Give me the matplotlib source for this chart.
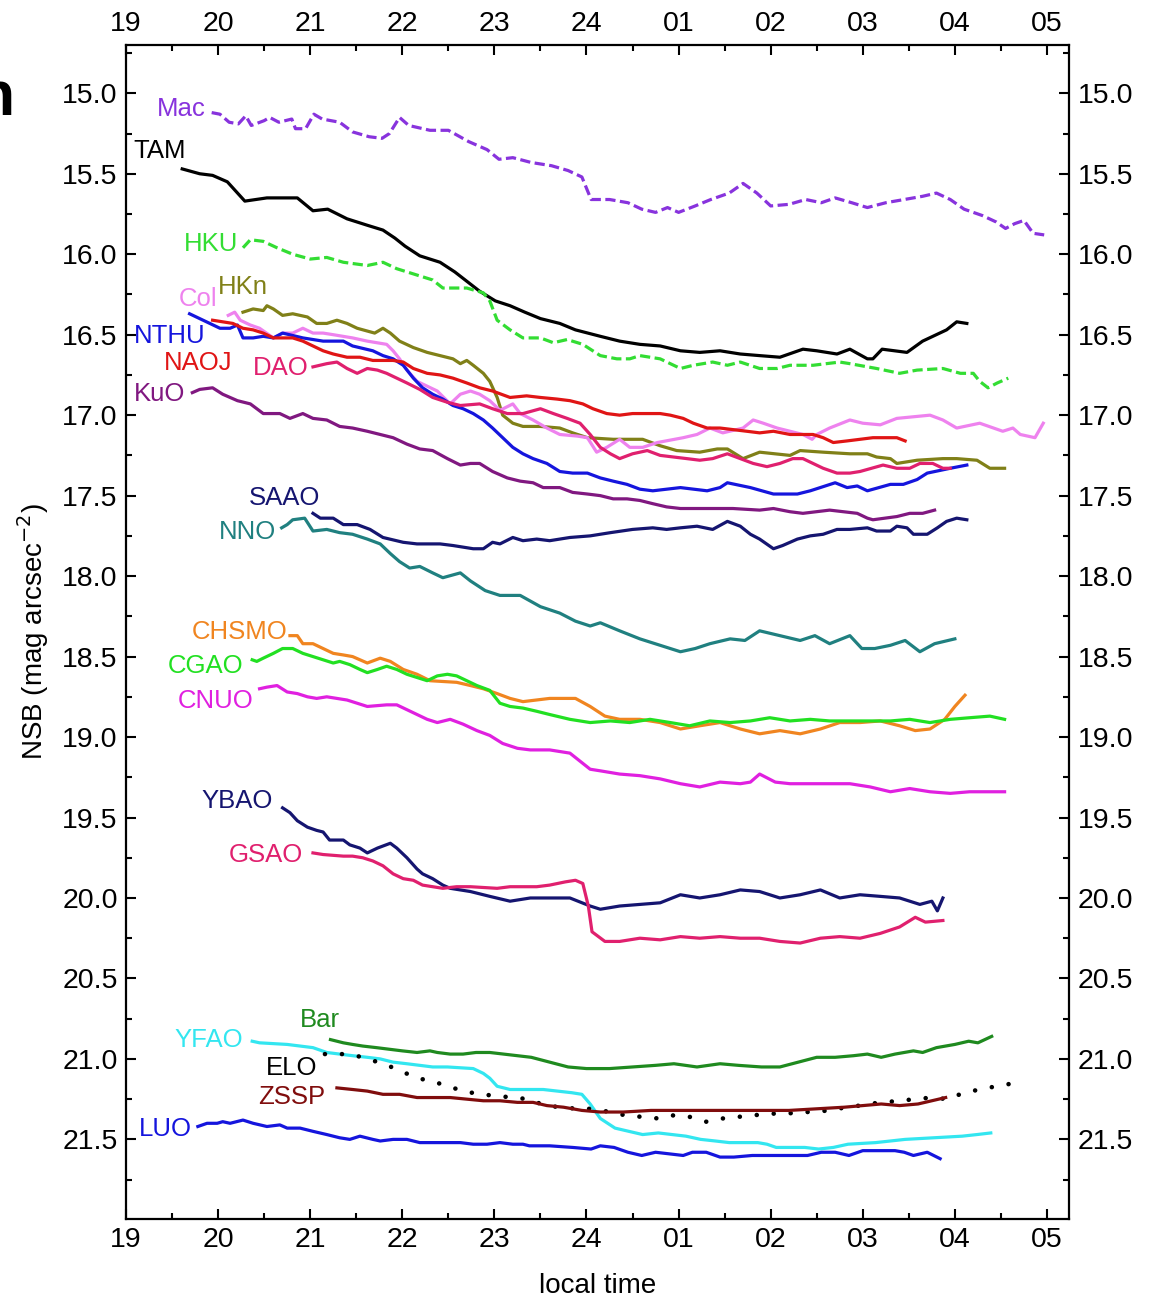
import matplotlib
matplotlib.use("Agg")
import matplotlib.pyplot as plt
from matplotlib.ticker import MultipleLocator, FixedLocator, FormatStrFormatter


OUTPUT = "out.png"

# local time in hours (24 = midnight, 25 = 01 ...), NSB in mag arcsec^-2
MAC_T = [19.93, 20.02, 20.12, 20.22, 20.30, 20.36, 20.50, 20.56, 20.66, 20.80, 20.84, 20.95,
         21.04, 21.13, 21.32, 21.46, 21.64, 21.78, 21.86, 21.97, 22.07, 22.30, 22.50, 22.72,
         22.92, 23.05, 23.20, 23.40, 23.62, 23.80, 23.95, 24.05, 24.25, 24.45, 24.60, 24.75,
         24.88, 25.00, 25.18, 25.35, 25.55, 25.70, 25.85, 26.00, 26.20, 26.38, 26.55, 26.70,
         26.88, 27.05, 27.25, 27.45, 27.65, 27.80, 27.95, 28.10, 28.30, 28.45, 28.55, 28.65,
         28.75, 28.85, 28.97]
MAC_V = [15.12, 15.13, 15.18, 15.19, 15.14, 15.20, 15.17, 15.15, 15.18, 15.16, 15.22, 15.22,
         15.13, 15.16, 15.18, 15.24, 15.27, 15.28, 15.25, 15.15, 15.20, 15.23, 15.23, 15.30,
         15.35, 15.41, 15.40, 15.43, 15.45, 15.48, 15.52, 15.66, 15.66, 15.68, 15.72, 15.74,
         15.71, 15.74, 15.70, 15.66, 15.62, 15.56, 15.62, 15.70, 15.69, 15.66, 15.68, 15.65,
         15.68, 15.71, 15.68, 15.66, 15.64, 15.62, 15.66, 15.72, 15.76, 15.80, 15.84, 15.81,
         15.79, 15.87, 15.88]

TAM_T = [19.61, 19.80, 19.94, 20.10, 20.29, 20.53, 20.86, 21.03, 21.19, 21.40, 21.62, 21.79,
         21.92, 22.03, 22.19, 22.41, 22.57, 22.84, 23.01, 23.17, 23.33, 23.50, 23.71, 23.88,
         24.15, 24.36, 24.58, 24.80, 25.02, 25.23, 25.45, 25.67, 25.88, 26.10, 26.35, 26.50,
         26.72, 26.86, 27.05, 27.11, 27.21, 27.48, 27.65, 27.91, 28.02, 28.13]
TAM_V = [15.47, 15.50, 15.51, 15.55, 15.67, 15.65, 15.65, 15.73, 15.72, 15.78, 15.82, 15.85,
         15.90, 15.95, 16.01, 16.05, 16.11, 16.23, 16.29, 16.32, 16.36, 16.40, 16.43, 16.47,
         16.51, 16.54, 16.56, 16.57, 16.60, 16.61, 16.60, 16.62, 16.63, 16.64, 16.59, 16.60,
         16.62, 16.59, 16.65, 16.65, 16.59, 16.61, 16.54, 16.47, 16.42, 16.43]

HKU_T = [20.27, 20.35, 20.49, 20.64, 20.81, 21.00, 21.18, 21.36, 21.62, 21.79, 21.94, 22.33,
         22.44, 22.70, 22.88, 22.95, 23.03, 23.17, 23.31, 23.50, 23.64, 23.79, 23.96, 24.15,
         24.33, 24.47, 24.58, 24.80, 25.02, 25.16, 25.37, 25.53, 25.67, 25.88, 26.07, 26.21,
         26.46, 26.75, 26.86, 27.15, 27.40, 27.59, 27.87, 28.06, 28.20, 28.27, 28.36, 28.46,
         28.58]
HKU_V = [15.96, 15.91, 15.92, 15.96, 16.00, 16.03, 16.02, 16.05, 16.07, 16.05, 16.09, 16.16,
         16.21, 16.21, 16.24, 16.29, 16.41, 16.47, 16.52, 16.52, 16.55, 16.53, 16.56, 16.63,
         16.65, 16.65, 16.63, 16.65, 16.71, 16.69, 16.67, 16.69, 16.67, 16.71, 16.71, 16.69,
         16.69, 16.67, 16.68, 16.71, 16.74, 16.72, 16.71, 16.74, 16.74, 16.79, 16.83, 16.80,
         16.77]

HKN_T = [20.27, 20.38, 20.49, 20.53, 20.60, 20.70, 20.81, 20.97, 21.07, 21.18, 21.29, 21.40,
         21.51, 21.70, 21.79, 21.87, 21.97, 22.12, 22.27, 22.41, 22.55, 22.63, 22.70, 22.77,
         22.88, 22.95, 23.03, 23.09, 23.20, 23.31, 23.50, 23.71, 23.85, 24.01, 24.29, 24.61,
         24.80, 24.98, 25.23, 25.42, 25.53, 25.70, 25.88, 26.21, 26.32, 26.57, 26.86, 27.05,
         27.15, 27.30, 27.37, 27.59, 27.87, 28.02, 28.24, 28.38, 28.54]
HKN_V = [16.36, 16.34, 16.35, 16.32, 16.34, 16.38, 16.37, 16.39, 16.43, 16.43, 16.41, 16.43,
         16.46, 16.49, 16.46, 16.49, 16.54, 16.58, 16.61, 16.63, 16.65, 16.68, 16.66, 16.69,
         16.74, 16.79, 16.89, 17.00, 17.05, 17.07, 17.07, 17.08, 17.11, 17.14, 17.15, 17.15,
         17.19, 17.22, 17.23, 17.21, 17.21, 17.27, 17.23, 17.25, 17.22, 17.23, 17.24, 17.24,
         17.26, 17.27, 17.30, 17.28, 17.27, 17.27, 17.28, 17.33, 17.33]

COL_T = [20.11, 20.18, 20.24, 20.35, 20.45, 20.60, 20.70, 20.81, 20.92, 21.03, 21.14, 21.25,
         21.46, 21.62, 21.83, 21.90, 21.97, 22.05, 22.16, 22.27, 22.38, 22.52, 22.63, 22.74,
         22.84, 22.95, 23.06, 23.20, 23.28, 23.42, 23.57, 23.71, 23.90, 24.01, 24.11, 24.22,
         24.36, 24.47, 24.61, 24.77, 25.05, 25.20, 25.34, 25.48, 25.70, 25.81, 25.92, 26.07,
         26.21, 26.35, 26.45, 26.50, 26.64, 26.86, 27.00, 27.19, 27.37, 27.73, 27.87, 28.02,
         28.27, 28.52, 28.63, 28.71, 28.87, 28.96]
COL_V = [16.38, 16.36, 16.41, 16.44, 16.46, 16.52, 16.49, 16.49, 16.46, 16.49, 16.49, 16.50,
         16.52, 16.54, 16.56, 16.60, 16.65, 16.72, 16.79, 16.82, 16.85, 16.93, 16.87, 16.85,
         16.87, 16.91, 16.97, 16.93, 16.99, 17.03, 17.08, 17.12, 17.13, 17.14, 17.23, 17.20,
         17.15, 17.20, 17.20, 17.17, 17.14, 17.12, 17.08, 17.11, 17.08, 17.03, 17.05, 17.08,
         17.10, 17.12, 17.15, 17.12, 17.08, 17.03, 17.05, 17.06, 17.02, 17.00, 17.03, 17.08,
         17.05, 17.10, 17.08, 17.12, 17.14, 17.05]

NTHU_T = [19.69, 19.91, 20.02, 20.13, 20.21, 20.27, 20.38, 20.49, 20.60, 20.70, 20.92, 21.14,
          21.36, 21.46, 21.68, 21.79, 21.90, 22.01, 22.12, 22.22, 22.33, 22.44, 22.55, 22.66,
          22.77, 22.88, 22.98, 23.09, 23.20, 23.31, 23.42, 23.57, 23.71, 23.85, 24.01, 24.15,
          24.29, 24.44, 24.58, 24.72, 24.87, 25.02, 25.31, 25.45, 25.53, 25.78, 26.03, 26.29,
          26.43, 26.70, 26.83, 26.94, 27.05, 27.30, 27.44, 27.59, 27.70, 27.95, 28.13]
NTHU_V = [16.37, 16.43, 16.46, 16.46, 16.44, 16.52, 16.52, 16.51, 16.52, 16.49, 16.52, 16.54,
          16.54, 16.57, 16.60, 16.63, 16.65, 16.69, 16.77, 16.83, 16.87, 16.90, 16.94, 16.96,
          16.99, 17.03, 17.08, 17.14, 17.20, 17.24, 17.27, 17.30, 17.35, 17.36, 17.36, 17.39,
          17.41, 17.43, 17.46, 17.47, 17.46, 17.45, 17.47, 17.45, 17.42, 17.45, 17.49, 17.49,
          17.47, 17.42, 17.45, 17.44, 17.47, 17.43, 17.43, 17.40, 17.36, 17.33, 17.31]

NAOJ_T = [19.94, 20.16, 20.27, 20.38, 20.49, 20.60, 20.81, 20.92, 21.03, 21.14, 21.25, 21.40,
          21.54, 21.68, 21.79, 21.90, 22.01, 22.12, 22.27, 22.41, 22.55, 22.70, 22.84, 22.98,
          23.17, 23.35, 23.50, 23.68, 23.82, 23.96, 24.07, 24.22, 24.36, 24.50, 24.80, 24.91,
          25.05, 25.16, 25.31, 25.45, 25.74, 25.88, 26.03, 26.21, 26.35, 26.46, 26.57, 26.68,
          26.83, 27.11, 27.37, 27.46]
NAOJ_V = [16.41, 16.43, 16.46, 16.47, 16.49, 16.52, 16.52, 16.54, 16.57, 16.60, 16.62, 16.64,
          16.64, 16.66, 16.66, 16.66, 16.67, 16.71, 16.74, 16.75, 16.77, 16.80, 16.83, 16.85,
          16.89, 16.88, 16.89, 16.90, 16.91, 16.93, 16.96, 16.99, 17.00, 16.99, 16.99, 17.00,
          17.02, 17.05, 17.08, 17.08, 17.10, 17.11, 17.10, 17.12, 17.12, 17.12, 17.14, 17.17,
          17.16, 17.14, 17.14, 17.16]

DAO_T = [21.03, 21.18, 21.29, 21.40, 21.51, 21.62, 21.73, 21.83, 21.94, 22.05, 22.19, 22.33,
         22.49, 22.63, 22.84, 22.98, 23.14, 23.31, 23.50, 23.64, 23.79, 23.93, 24.04, 24.15,
         24.26, 24.36, 24.50, 24.66, 24.80, 25.09, 25.23, 25.37, 25.53, 25.67, 25.81, 25.96,
         26.10, 26.24, 26.35, 26.46, 26.57, 26.72, 26.86, 26.97, 27.22, 27.37, 27.51, 27.62,
         27.76, 27.87, 27.95]
DAO_V = [16.70, 16.68, 16.67, 16.71, 16.74, 16.71, 16.72, 16.74, 16.77, 16.80, 16.84, 16.89,
         16.92, 16.94, 16.93, 16.96, 16.99, 16.99, 16.96, 16.99, 17.02, 17.05, 17.12, 17.20,
         17.24, 17.27, 17.24, 17.22, 17.25, 17.27, 17.28, 17.27, 17.24, 17.27, 17.30, 17.32,
         17.30, 17.27, 17.27, 17.30, 17.33, 17.36, 17.36, 17.35, 17.31, 17.33, 17.33, 17.30,
         17.30, 17.33, 17.33]

KUO_T = [19.72, 19.80, 19.94, 20.05, 20.21, 20.35, 20.49, 20.67, 20.78, 20.92, 21.03, 21.18,
         21.32, 21.46, 21.62, 21.76, 21.90, 22.05, 22.19, 22.33, 22.49, 22.63, 22.74, 22.84,
         22.98, 23.14, 23.28, 23.42, 23.53, 23.71, 23.85, 24.01, 24.15, 24.29, 24.44, 24.58,
         24.72, 24.87, 25.02, 25.31, 25.59, 25.88, 26.03, 26.21, 26.35, 26.64, 26.94, 27.05,
         27.11, 27.37, 27.51, 27.65, 27.78]
KUO_V = [16.86, 16.84, 16.83, 16.87, 16.91, 16.93, 16.99, 16.99, 17.02, 16.99, 17.02, 17.03,
         17.07, 17.08, 17.10, 17.12, 17.14, 17.18, 17.21, 17.22, 17.27, 17.31, 17.30, 17.30,
         17.35, 17.39, 17.41, 17.42, 17.45, 17.45, 17.48, 17.49, 17.50, 17.52, 17.52, 17.53,
         17.55, 17.57, 17.58, 17.58, 17.58, 17.59, 17.58, 17.60, 17.61, 17.59, 17.61, 17.64,
         17.65, 17.63, 17.61, 17.61, 17.59]

SAAO_T = [21.03, 21.11, 21.25, 21.36, 21.51, 21.65, 21.79, 22.01, 22.16, 22.41, 22.55, 22.77,
          22.88, 22.98, 23.06, 23.20, 23.31, 23.46, 23.60, 23.82, 24.04, 24.26, 24.50, 24.72,
          24.87, 25.02, 25.20, 25.37, 25.53, 25.67, 25.78, 25.88, 26.03, 26.13, 26.29, 26.43,
          26.57, 26.72, 26.86, 27.05, 27.15, 27.30, 27.37, 27.48, 27.55, 27.70, 27.81, 27.91,
          28.02, 28.13]
SAAO_V = [17.61, 17.64, 17.64, 17.68, 17.68, 17.71, 17.76, 17.79, 17.80, 17.80, 17.81, 17.83,
          17.83, 17.79, 17.80, 17.76, 17.78, 17.77, 17.78, 17.76, 17.75, 17.73, 17.71, 17.70,
          17.71, 17.70, 17.69, 17.71, 17.66, 17.69, 17.74, 17.77, 17.83, 17.81, 17.77, 17.75,
          17.74, 17.71, 17.71, 17.70, 17.72, 17.72, 17.69, 17.70, 17.74, 17.74, 17.70, 17.66,
          17.64, 17.65]

NNO_T = [20.69, 20.75, 20.81, 20.94, 21.03, 21.18, 21.32, 21.46, 21.62, 21.76, 21.87, 21.97,
         22.08, 22.19, 22.33, 22.44, 22.63, 22.74, 22.90, 23.06, 23.28, 23.50, 23.71, 23.88,
         24.04, 24.15, 24.36, 24.58, 24.80, 25.02, 25.18, 25.34, 25.56, 25.72, 25.88, 26.10,
         26.32, 26.48, 26.64, 26.86, 26.99, 27.13, 27.30, 27.46, 27.62, 27.78, 28.00]
NNO_V = [17.70, 17.68, 17.65, 17.64, 17.72, 17.71, 17.73, 17.74, 17.77, 17.80, 17.86, 17.91,
         17.95, 17.94, 17.98, 18.01, 17.98, 18.03, 18.09, 18.12, 18.12, 18.19, 18.23, 18.28,
         18.31, 18.29, 18.34, 18.39, 18.43, 18.47, 18.45, 18.42, 18.39, 18.40, 18.34, 18.37,
         18.40, 18.37, 18.42, 18.37, 18.45, 18.45, 18.43, 18.40, 18.47, 18.42, 18.39]

CHSMO_T = [20.78, 20.86, 20.92, 21.03, 21.14, 21.25, 21.36, 21.46, 21.62, 21.76, 21.87, 22.01,
           22.16, 22.30, 22.59, 22.74, 22.88, 23.03, 23.17, 23.31, 23.60, 23.88, 24.04, 24.20,
           24.36, 24.58, 24.80, 25.02, 25.23, 25.45, 25.67, 25.88, 26.10, 26.32, 26.54, 26.75,
           26.97, 27.19, 27.40, 27.57, 27.73, 27.89, 28.00, 28.11]
CHSMO_V = [18.37, 18.37, 18.42, 18.42, 18.45, 18.48, 18.49, 18.50, 18.54, 18.51, 18.53, 18.58,
           18.61, 18.65, 18.66, 18.68, 18.70, 18.73, 18.76, 18.78, 18.76, 18.76, 18.81, 18.87,
           18.89, 18.89, 18.91, 18.95, 18.93, 18.91, 18.95, 18.98, 18.96, 18.98, 18.95, 18.91,
           18.91, 18.90, 18.93, 18.96, 18.95, 18.89, 18.81, 18.74]

CGAO_T = [20.37, 20.42, 20.49, 20.60, 20.70, 20.81, 20.92, 21.03, 21.14, 21.25, 21.32, 21.43,
          21.54, 21.62, 21.73, 21.83, 21.94, 22.05, 22.16, 22.27, 22.38, 22.49, 22.59, 22.70,
          22.81, 22.95, 23.06, 23.17, 23.31, 23.46, 23.60, 23.82, 24.04, 24.26, 24.47, 24.69,
          24.91, 25.12, 25.34, 25.56, 25.78, 25.99, 26.21, 26.43, 26.64, 27.08, 27.30, 27.51,
          27.73, 27.95, 28.16, 28.38, 28.54]
CGAO_V = [18.52, 18.53, 18.51, 18.48, 18.45, 18.45, 18.48, 18.50, 18.52, 18.54, 18.53, 18.55,
          18.58, 18.60, 18.58, 18.56, 18.58, 18.61, 18.63, 18.65, 18.62, 18.61, 18.62, 18.65,
          18.68, 18.71, 18.79, 18.81, 18.82, 18.84, 18.86, 18.89, 18.91, 18.90, 18.91, 18.89,
          18.91, 18.93, 18.90, 18.91, 18.90, 18.88, 18.90, 18.89, 18.90, 18.90, 18.90, 18.89,
          18.91, 18.89, 18.88, 18.87, 18.89]

CNUO_T = [20.45, 20.53, 20.64, 20.75, 20.86, 20.97, 21.07, 21.18, 21.40, 21.51, 21.62, 21.83,
          21.94, 22.05, 22.16, 22.27, 22.38, 22.52, 22.66, 22.81, 22.95, 23.09, 23.25, 23.39,
          23.60, 23.82, 23.93, 24.04, 24.15, 24.36, 24.58, 24.80, 25.02, 25.23, 25.45, 25.67,
          25.78, 25.88, 26.05, 26.21, 26.43, 26.86, 27.08, 27.30, 27.51, 27.73, 27.95, 28.16,
          28.54]
CNUO_V = [18.70, 18.69, 18.68, 18.72, 18.73, 18.75, 18.76, 18.75, 18.77, 18.79, 18.81, 18.80,
          18.80, 18.83, 18.86, 18.89, 18.91, 18.89, 18.92, 18.96, 18.99, 19.04, 19.07, 19.08,
          19.08, 19.10, 19.15, 19.20, 19.21, 19.23, 19.24, 19.26, 19.29, 19.31, 19.28, 19.29,
          19.28, 19.23, 19.28, 19.29, 19.29, 19.29, 19.31, 19.34, 19.32, 19.34, 19.35, 19.34,
          19.34]

YBAO_T = [20.70, 20.78, 20.86, 20.97, 21.07, 21.14, 21.21, 21.36, 21.43, 21.54, 21.62, 21.73,
          21.87, 21.94, 22.05, 22.16, 22.22, 22.33, 22.44, 22.52, 22.74, 22.95, 23.17, 23.39,
          23.60, 23.82, 24.04, 24.15, 24.36, 24.58, 24.80, 25.02, 25.23, 25.45, 25.67, 25.88,
          26.10, 26.32, 26.54, 26.75, 26.97, 27.19, 27.40, 27.62, 27.75, 27.81, 27.87]
YBAO_V = [19.44, 19.47, 19.52, 19.56, 19.58, 19.59, 19.64, 19.64, 19.67, 19.69, 19.72, 19.69,
          19.66, 19.69, 19.75, 19.82, 19.85, 19.88, 19.92, 19.94, 19.96, 19.99, 20.02, 20.00,
          20.00, 20.00, 20.05, 20.07, 20.05, 20.04, 20.03, 19.98, 20.00, 19.98, 19.95, 19.96,
          20.00, 19.98, 19.95, 20.00, 19.98, 19.99, 20.00, 20.04, 20.02, 20.08, 20.00]

GSAO_T = [21.03, 21.14, 21.36, 21.46, 21.57, 21.68, 21.79, 21.90, 22.01, 22.12, 22.22, 22.33,
          22.44, 22.59, 22.74, 23.03, 23.17, 23.46, 23.60, 23.77, 23.88, 23.96, 24.02, 24.06,
          24.20, 24.36, 24.58, 24.80, 25.02, 25.23, 25.45, 25.67, 25.88, 26.10, 26.32, 26.54,
          26.75, 26.97, 27.19, 27.40, 27.57, 27.68, 27.87]
GSAO_V = [19.72, 19.73, 19.74, 19.74, 19.75, 19.77, 19.80, 19.85, 19.88, 19.89, 19.92, 19.93,
          19.94, 19.93, 19.93, 19.94, 19.93, 19.93, 19.92, 19.90, 19.89, 19.91, 20.05, 20.21,
          20.27, 20.27, 20.25, 20.26, 20.24, 20.25, 20.24, 20.25, 20.25, 20.27, 20.28, 20.25,
          20.24, 20.25, 20.22, 20.18, 20.12, 20.15, 20.14]

BAR_T = [21.22, 21.36, 21.46, 21.57, 21.72, 21.86, 22.00, 22.16, 22.30, 22.38, 22.52, 22.66,
         22.80, 22.95, 23.10, 23.25, 23.40, 23.60, 23.80, 24.00, 24.25, 24.50, 24.75, 24.95,
         25.20, 25.45, 25.65, 25.90, 26.10, 26.30, 26.50, 26.70, 26.90, 27.05, 27.20, 27.35,
         27.55, 27.65, 27.80, 28.00, 28.15, 28.25, 28.40]
BAR_V = [20.88, 20.90, 20.91, 20.92, 20.93, 20.94, 20.95, 20.96, 20.95, 20.96, 20.97, 20.97,
         20.96, 20.96, 20.97, 20.98, 20.99, 21.02, 21.05, 21.06, 21.06, 21.05, 21.04, 21.03,
         21.05, 21.03, 21.04, 21.05, 21.05, 21.02, 20.99, 20.99, 20.98, 20.97, 20.99, 20.97,
         20.95, 20.96, 20.93, 20.91, 20.89, 20.90, 20.86]

YFAO_T = [20.37, 20.45, 20.75, 20.89, 21.03, 21.18, 21.32, 21.46, 21.62, 21.76, 21.90, 22.05,
          22.19, 22.33, 22.49, 22.77, 22.88, 22.95, 23.03, 23.17, 23.53, 23.84, 23.95, 24.04,
          24.15, 24.31, 24.46, 24.61, 24.78, 24.93, 25.08, 25.24, 25.40, 25.55, 25.86, 25.96,
          26.06, 26.37, 26.52, 26.68, 26.84, 27.14, 27.46, 27.77, 28.08, 28.24, 28.39]
YFAO_V = [20.89, 20.90, 20.91, 20.92, 20.93, 20.96, 20.97, 20.98, 20.99, 21.00, 21.02, 21.03,
          21.04, 21.05, 21.05, 21.06, 21.09, 21.12, 21.17, 21.19, 21.19, 21.21, 21.22, 21.28,
          21.37, 21.43, 21.45, 21.47, 21.46, 21.47, 21.48, 21.50, 21.51, 21.52, 21.52, 21.53,
          21.55, 21.55, 21.56, 21.55, 21.53, 21.52, 21.50, 21.49, 21.48, 21.47, 21.46]

ELO_T = [21.16, 21.35, 21.50, 21.68, 21.84, 22.00, 22.17, 22.33, 22.50, 22.66, 22.85, 23.03,
         23.20, 23.37, 23.55, 23.72, 23.90, 24.08, 24.25, 24.42, 24.60, 24.78, 24.95, 25.12,
         25.30, 25.48, 25.65, 25.82, 26.00, 26.17, 26.35, 26.52, 26.70, 26.87, 27.05, 27.22,
         27.40, 27.57, 27.75, 27.92, 28.10, 28.27, 28.45, 28.65]
ELO_V = [20.97, 20.97, 20.98, 21.01, 21.04, 21.08, 21.12, 21.14, 21.17, 21.20, 21.22, 21.23,
         21.24, 21.25, 21.29, 21.30, 21.31, 21.31, 21.33, 21.35, 21.36, 21.37, 21.35, 21.36,
         21.39, 21.37, 21.36, 21.35, 21.34, 21.34, 21.33, 21.33, 21.31, 21.30, 21.28, 21.27,
         21.26, 21.25, 21.24, 21.25, 21.21, 21.19, 21.17, 21.15]

ZSSP_T = [21.29, 21.46, 21.62, 21.79, 21.97, 22.16, 22.30, 22.38, 22.52, 22.70, 22.88, 23.06,
          23.25, 23.42, 23.57, 23.75, 23.95, 24.15, 24.40, 24.70, 25.00, 25.30, 25.60, 25.90,
          26.20, 26.50, 26.80, 27.00, 27.20, 27.40, 27.60, 27.75, 27.90]
ZSSP_V = [21.18, 21.19, 21.20, 21.22, 21.22, 21.24, 21.24, 21.24, 21.24, 21.25, 21.26, 21.26,
          21.27, 21.27, 21.29, 21.30, 21.32, 21.33, 21.33, 21.32, 21.32, 21.32, 21.32, 21.32,
          21.32, 21.31, 21.30, 21.29, 21.28, 21.29, 21.28, 21.26, 21.24]

LUO_T = [19.78, 19.88, 19.99, 20.05, 20.13, 20.27, 20.38, 20.53, 20.67, 20.75, 20.89, 21.03,
         21.18, 21.32, 21.43, 21.54, 21.68, 21.76, 21.90, 22.05, 22.19, 22.33, 22.63, 22.77,
         22.92, 23.06, 23.20, 23.31, 23.38, 23.60, 23.85, 24.05, 24.15, 24.30, 24.45, 24.60,
         24.75, 24.90, 25.05, 25.15, 25.30, 25.45, 25.60, 25.80, 26.00, 26.20, 26.40, 26.55,
         26.70, 26.85, 27.00, 27.20, 27.35, 27.45, 27.55, 27.70, 27.84]
LUO_V = [21.42, 21.40, 21.40, 21.39, 21.40, 21.38, 21.40, 21.42, 21.41, 21.43, 21.43, 21.45,
         21.47, 21.49, 21.50, 21.48, 21.50, 21.51, 21.50, 21.50, 21.52, 21.52, 21.52, 21.53,
         21.53, 21.52, 21.53, 21.53, 21.54, 21.54, 21.55, 21.56, 21.54, 21.55, 21.58, 21.60,
         21.58, 21.59, 21.60, 21.58, 21.58, 21.61, 21.61, 21.60, 21.60, 21.60, 21.60, 21.58,
         21.58, 21.60, 21.57, 21.57, 21.57, 21.58, 21.60, 21.58, 21.62]

HOUR_TICKS = [19, 20, 21, 22, 23, 24, 25, 26, 27, 28, 29]
HOUR_LABELS = ["19", "20", "21", "22", "23", "24", "01", "02", "03", "04", "05"]

# name, times, values, colour, style, label anchor (time, nsb, ha)
SERIES = [
    ("Mac", MAC_T, MAC_V, "#8833dd", "dash", (19.86, 15.08, "right")),
    ("TAM", TAM_T, TAM_V, "black", "solid", (19.65, 15.34, "right")),
    ("HKU", HKU_T, HKU_V, "#33dd33", "dash", (20.22, 15.92, "right")),
    ("HKn", HKN_T, HKN_V, "#808018", "solid", (20.00, 16.19, "left")),
    ("Col", COL_T, COL_V, "#ee82ee", "solid", (19.99, 16.26, "right")),
    ("NTHU", NTHU_T, NTHU_V, "#1515dd", "solid", (19.86, 16.49, "right")),
    ("NAOJ", NAOJ_T, NAOJ_V, "#e01515", "solid", (20.15, 16.66, "right")),
    ("DAO", DAO_T, DAO_V, "#e0206e", "solid", (20.98, 16.69, "right")),
    ("KuO", KUO_T, KUO_V, "#801880", "solid", (19.64, 16.85, "right")),
    ("SAAO", SAAO_T, SAAO_V, "#151570", "solid", (21.11, 17.50, "right")),
    ("NNO", NNO_T, NNO_V, "#208080", "solid", (20.63, 17.71, "right")),
    ("CHSMO", CHSMO_T, CHSMO_V, "#f08520", "solid", (20.75, 18.33, "right")),
    ("CGAO", CGAO_T, CGAO_V, "#22e022", "solid", (20.27, 18.54, "right")),
    ("CNUO", CNUO_T, CNUO_V, "#e020e0", "solid", (20.38, 18.76, "right")),
    ("YBAO", YBAO_T, YBAO_V, "#151570", "solid", (20.59, 19.38, "right")),
    ("GSAO", GSAO_T, GSAO_V, "#e0206e", "solid", (20.92, 19.72, "right")),
    ("Bar", BAR_T, BAR_V, "#1f8a1f", "solid", (21.10, 20.74, "center")),
    ("YFAO", YFAO_T, YFAO_V, "#33e6f0", "solid", (20.27, 20.87, "right")),
    ("ELO", ELO_T, ELO_V, "black", "dot", (21.08, 21.04, "right")),
    ("ZSSP", ZSSP_T, ZSSP_V, "#800d0d", "solid", (21.16, 21.22, "right")),
    ("LUO", LUO_T, LUO_V, "#1515dd", "solid", (19.72, 21.42, "right")),
]

LINESTYLES = {
    "solid": "-",
    "dash": (0, (3.2, 1.4)),
    "dot": (0, (0.01, 3.7)),
}


def main():
    plt.rcParams["font.family"] = ["Liberation Sans", "DejaVu Sans"]
    fig = plt.figure(figsize=(11.53, 12.97), dpi=100)
    ax = fig.add_axes([0.1093, 0.0601, 0.8179, 0.9052])

    for name, t, v, colour, style, (lx, ly, ha) in SERIES:
        if style == "dot":
            ax.plot(t, v, color=colour, linestyle=LINESTYLES[style], linewidth=3.3,
                    dash_capstyle="round")
        else:
            ax.plot(t, v, color=colour, linestyle=LINESTYLES[style], linewidth=2.3)
        ax.text(lx, ly, name, color=colour, fontsize=18.5, ha=ha,
                va="center_baseline")

    ax.set_xlim(19, 29.24)
    ax.set_ylim(21.995, 14.70)

    ax.xaxis.set_major_locator(FixedLocator(HOUR_TICKS))
    ax.set_xticklabels(HOUR_LABELS)
    ax.xaxis.set_minor_locator(MultipleLocator(0.5))
    ax.yaxis.set_major_locator(MultipleLocator(0.5))
    ax.yaxis.set_minor_locator(MultipleLocator(0.25))
    ax.yaxis.set_major_formatter(FormatStrFormatter("%.1f"))

    ax.tick_params(which="both", direction="in", top=True, right=True,
                   labeltop=True, labelright=True, width=1.5, labelsize=20.5)
    ax.tick_params(which="major", length=7, pad=6)
    ax.tick_params(which="minor", length=4)
    for spine in ax.spines.values():
        spine.set_linewidth(1.6)

    ax.set_xlabel("local time", fontsize=20, labelpad=14)
    ax.set_ylabel("NSB (mag arcsec$^{-2}$)", fontsize=20, labelpad=8)

    # panel letter, partly cut off at the left edge as in the source figure
    fig.text(0.013, 0.9113, "n", fontsize=45, fontweight="bold", ha="right",
             va="baseline")

    fig.savefig(OUTPUT, dpi=100)
    plt.close(fig)


if __name__ == "__main__":
    main()
